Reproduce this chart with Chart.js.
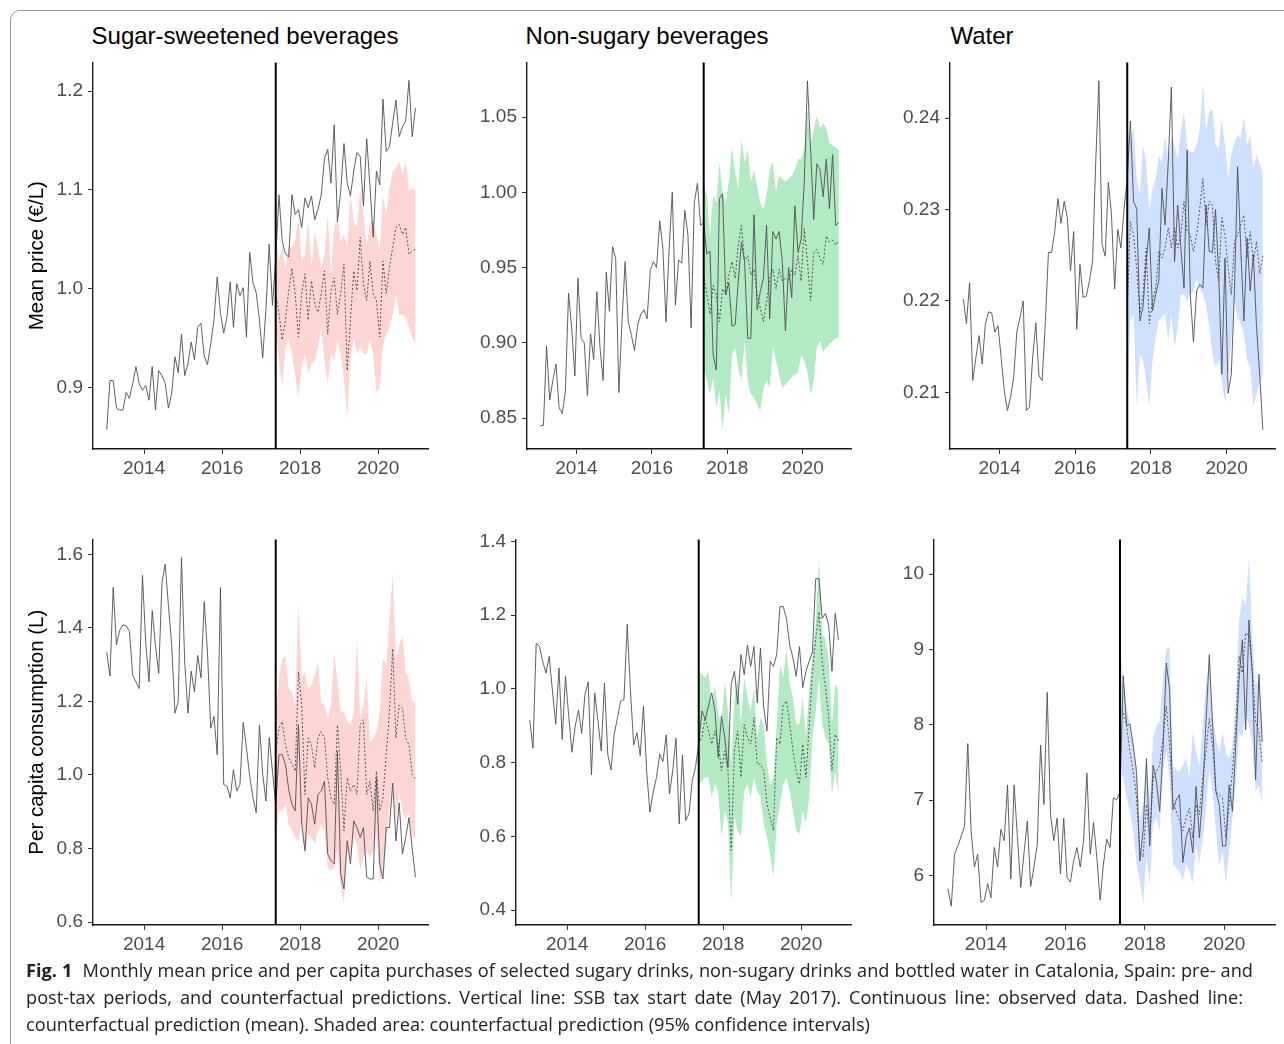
<!DOCTYPE html>
<html><head><meta charset="utf-8">
<script src="https://cdn.jsdelivr.net/npm/chart.js@4.4.0/dist/chart.umd.min.js"></script>
<style>
body{margin:0;background:#fff;width:1284px;height:1044px;overflow:hidden;position:relative;font-family:"Liberation Sans",Arial,sans-serif;}
.frame{position:absolute;left:10px;top:10px;width:1320px;height:1100px;border:1px solid #9a9a9a;border-radius:10px;box-sizing:border-box;}
.ttl{position:absolute;font-size:24px;line-height:26px;color:#000;white-space:nowrap;transform:translateX(-50%);}
canvas{position:absolute}
.cap{position:absolute;left:26px;top:957px;width:1227px;font-family:"Open Sans",sans-serif;font-size:18.2px;line-height:27px;color:#222;}
.cap div{white-space:nowrap;text-align:justify;text-align-last:justify;}
.cap div.l2{width:1217px;}
.cap div.last{text-align:left;text-align-last:left;}
.cap b{font-weight:700}
</style>
</head><body>
<div class="frame"></div>
<div class="ttl" style="left:245px;top:23px">Sugar-sweetened beverages</div>
<div class="ttl" style="left:647px;top:23px">Non-sugary beverages</div>
<div class="ttl" style="left:982px;top:23px">Water</div>
<canvas id="c1"></canvas><canvas id="c2"></canvas><canvas id="c3"></canvas>
<canvas id="c4"></canvas><canvas id="c5"></canvas><canvas id="c6"></canvas>
<div class="cap">
<div><b>Fig. 1</b>&nbsp; Monthly mean price and per capita purchases of selected sugary drinks, non-sugary drinks and bottled water in Catalonia, Spain: pre- and</div>
<div class="l2">post-tax periods, and counterfactual predictions. Vertical line: SSB tax start date (May 2017). Continuous line: observed data. Dashed line:</div>
<div class="last">counterfactual prediction (mean). Shaded area: counterfactual prediction (95% confidence intervals)</div>
</div>
<script>
// ---- time axis ----
const startYear = 2013;          // Jan 2013
const nMonths = 96;              // Jan 2013 .. Dec 2020
const taxStartIndex = 52;        // May 2017
const taxStart = 2017.375;       // May 2017 (mid-month)
const xTicks = [2014, 2016, 2018, 2020];

// ---- SSB price (EUR/L) ----
const ssbPriceObs = [0.857,0.907,0.907,0.879,0.877,0.877,0.895,0.889,0.904,0.921,
0.904,0.897,0.902,0.887,0.921,0.877,0.917,0.912,0.904,0.879,
0.894,0.931,0.915,0.954,0.912,0.924,0.946,0.928,0.961,0.965,
0.932,0.923,0.944,0.968,1.012,0.975,0.955,0.971,1.007,0.961,
1.005,0.993,1.001,0.951,1.037,1.006,0.996,0.968,0.930,0.980,
1.045,0.983,
1.030,1.095,1.048,1.035,1.032,1.095,1.075,1.080,1.062,1.092,
1.082,1.094,1.070,1.080,1.095,1.132,1.141,1.107,1.166,1.068,
1.099,1.147,1.107,1.094,1.119,1.138,1.134,1.084,1.152,1.104,
1.052,1.119,1.105,1.192,1.139,1.144,1.168,1.191,1.154,1.164,
1.170,1.211,1.154,1.183];
const ssbPriceMean = [0.995,0.975,0.948,0.968,0.998,1.021,0.995,0.951,0.995,1.015,
0.968,1.008,0.985,0.976,0.995,1.018,0.954,0.998,1.011,0.974,
0.995,1.025,0.917,0.968,1.018,0.998,1.052,1.005,0.988,1.028,
0.995,0.988,0.951,1.028,0.995,1.021,1.042,1.062,1.065,1.055,
1.062,1.035,1.038,1.040];
const ssbPriceLo = [0.954,0.927,0.901,0.941,0.948,0.934,0.911,0.891,0.921,0.934,
0.914,0.924,0.927,0.941,0.961,0.927,0.904,0.934,0.927,0.948,
0.934,0.907,0.870,0.927,0.951,0.934,0.941,0.934,0.934,0.948,
0.934,0.894,0.900,0.941,0.954,0.961,0.974,0.995,0.974,0.974,
0.971,0.961,0.950,0.944];
const ssbPriceHi = [1.048,1.028,1.042,1.021,1.042,1.042,1.050,1.072,1.028,1.035,
1.068,1.021,1.058,1.042,1.021,1.035,1.075,1.015,1.062,1.075,
1.048,1.055,1.042,1.095,1.068,1.062,1.102,1.075,1.042,1.068,
1.068,1.055,1.038,1.095,1.075,1.102,1.119,1.122,1.129,1.115,
1.129,1.099,1.102,1.100];
const ssbPriceTicks = [0.9, 1.0, 1.1, 1.2];

// ---- Non-sugary price ----
const nsPriceObs = [0.845,0.845,0.898,0.862,0.875,0.886,0.857,0.853,0.868,0.933,
0.910,0.878,0.943,0.903,0.900,0.865,0.906,0.889,0.934,0.897,
0.875,0.947,0.921,0.964,0.956,0.867,0.914,0.954,0.914,0.905,
0.895,0.912,0.919,0.922,0.916,0.948,0.954,0.950,0.981,0.963,
0.914,0.963,1.000,0.925,0.955,0.953,0.988,0.971,0.910,0.993,
1.006,0.978,
0.980,0.959,0.961,0.892,0.882,0.996,0.999,0.932,0.940,0.911,
0.912,0.941,0.967,0.954,0.903,0.903,0.985,0.922,0.934,0.943,
0.978,0.916,0.974,0.969,0.974,0.954,0.908,0.950,0.930,0.991,
0.960,0.969,1.007,1.074,1.029,0.982,1.019,1.015,0.997,1.022,
0.989,1.025,0.978,0.980];
const nsPriceMean = [0.945,0.932,0.919,0.938,0.932,0.914,0.936,0.932,0.945,0.954,
0.943,0.965,0.978,0.954,0.958,0.945,0.949,0.932,0.923,0.914,
0.927,0.943,0.949,0.936,0.949,0.941,0.943,0.941,0.949,0.945,
0.958,0.941,0.976,0.954,0.928,0.960,0.962,0.956,0.952,0.971,
0.967,0.968,0.965,0.968];
const nsPriceLo = [0.883,0.875,0.866,0.877,0.857,0.868,0.842,0.866,0.853,0.892,
0.897,0.883,0.875,0.901,0.875,0.866,0.864,0.859,0.855,0.870,
0.875,0.870,0.897,0.888,0.879,0.870,0.872,0.875,0.877,0.879,
0.880,0.892,0.888,0.881,0.866,0.875,0.897,0.901,0.894,0.897,
0.899,0.901,0.903,0.903];
const nsPriceHi = [1.004,0.998,0.971,0.998,0.993,1.020,1.000,0.993,1.007,1.030,
1.013,1.002,1.035,1.020,1.029,1.007,1.015,1.004,0.993,0.989,
0.998,1.015,1.020,1.000,1.011,1.009,1.007,1.009,1.011,1.015,
1.022,1.022,1.029,1.055,1.031,1.042,1.051,1.042,1.046,1.042,
1.033,1.031,1.030,1.028];
const nsPriceTicks = [0.85, 0.90, 0.95, 1.00, 1.05];

// ---- Water price ----
const wPriceObs = [0.2202,0.2175,0.2220,0.2113,0.2138,0.2162,0.2131,0.2175,0.2188,0.2187,
0.2166,0.2173,0.2138,0.2102,0.2080,0.2095,0.2117,0.2167,0.2182,0.2200,
0.2080,0.2084,0.2138,0.2176,0.2118,0.2113,0.2175,0.2253,0.2253,0.2276,
0.2312,0.2285,0.2309,0.2291,0.2233,0.2276,0.2169,0.2240,0.2204,0.2205,
0.2222,0.2243,0.2352,0.2441,0.2262,0.2249,0.2330,0.2294,0.2213,0.2278,
0.2258,0.2301,
0.2334,0.2397,0.2309,0.2301,0.2178,0.2193,0.2243,0.2280,0.2189,0.2207,
0.2222,0.2323,0.2283,0.2352,0.2434,0.2243,0.2305,0.2258,0.2214,0.2365,
0.2207,0.2155,0.2211,0.2218,0.2214,0.2305,0.2254,0.2253,0.2300,0.2229,
0.2120,0.2247,0.2099,0.2120,0.2211,0.2347,0.2258,0.2178,0.2269,0.2211,
0.2251,0.2171,0.2120,0.2059];
const wPriceMean = [0.2193,0.2287,0.2272,0.2236,0.2186,0.2207,0.2258,0.2175,0.2200,0.2214,
0.2254,0.2247,0.2258,0.2280,0.2258,0.2280,0.2258,0.2272,0.2309,0.2276,
0.2272,0.2254,0.2272,0.2301,0.2334,0.2283,0.2309,0.2305,0.2243,0.2222,
0.2291,0.2272,0.2236,0.2207,0.2265,0.2272,0.2283,0.2294,0.2247,0.2276,
0.2243,0.2265,0.2230,0.2250];
const wPriceLo = [0.2088,0.2178,0.2186,0.2084,0.2142,0.2135,0.2113,0.2084,0.2135,0.2160,
0.2178,0.2182,0.2186,0.2157,0.2186,0.2149,0.2171,0.2207,0.2207,0.2200,
0.2207,0.2211,0.2225,0.2214,0.2207,0.2196,0.2171,0.2142,0.2128,0.2135,
0.2113,0.2088,0.2120,0.2157,0.2200,0.2182,0.2175,0.2164,0.2135,0.2128,
0.2084,0.2100,0.2110,0.2120];
const wPriceHi = [0.2381,0.2374,0.2390,0.2334,0.2316,0.2370,0.2352,0.2298,0.2323,0.2334,
0.2359,0.2352,0.2381,0.2352,0.2378,0.2370,0.2356,0.2385,0.2408,0.2367,
0.2363,0.2363,0.2370,0.2388,0.2437,0.2385,0.2407,0.2410,0.2370,0.2367,
0.2399,0.2370,0.2334,0.2359,0.2374,0.2381,0.2378,0.2401,0.2370,0.2381,
0.2345,0.2360,0.2350,0.2340];
const wPriceTicks = [0.21, 0.22, 0.23, 0.24];

// ---- SSB per capita consumption (L) ----
const ssbConsObs = [1.334,1.269,1.510,1.354,1.393,1.408,1.406,1.390,1.271,1.253,
1.235,1.543,1.361,1.253,1.447,1.352,1.276,1.523,1.573,1.460,
1.352,1.168,1.199,1.591,1.307,1.168,1.282,1.226,1.325,1.264,
1.471,1.334,1.127,1.159,1.055,1.510,0.974,0.969,0.938,1.014,
0.956,0.974,1.143,1.073,0.996,0.938,0.897,1.136,1.001,0.929,
1.102,1.010,
0.920,1.055,1.055,1.028,0.960,0.920,0.902,1.136,0.866,0.794,
0.938,0.920,0.866,0.947,0.956,0.983,0.785,0.767,0.758,1.064,
0.731,0.690,0.821,0.758,0.875,0.857,0.830,0.857,0.722,0.717,
0.717,0.992,0.758,0.717,0.857,0.857,0.978,0.821,0.924,0.785,
0.830,0.884,0.800,0.722];
const ssbConsMean = [1.064,1.127,1.145,1.082,1.046,1.030,1.010,1.280,1.190,0.947,
1.100,1.082,1.019,1.100,1.118,1.100,0.992,0.938,0.920,1.136,
1.010,0.848,0.992,0.956,0.974,0.947,1.136,1.150,0.947,0.983,
0.902,1.010,0.902,0.938,1.055,1.172,1.343,1.100,1.190,1.181,
1.100,1.082,1.001,0.990];
const ssbConsLo = [0.830,0.902,0.902,0.920,0.866,0.850,0.830,0.821,0.875,0.776,
0.839,0.830,0.812,0.848,0.866,0.848,0.749,0.740,0.749,0.794,
0.695,0.650,0.794,0.776,0.830,0.812,0.740,0.776,0.794,0.776,
0.794,0.839,0.704,0.740,0.812,0.902,0.992,0.875,0.956,0.902,
0.875,0.902,0.830,0.830];
const ssbConsHi = [1.181,1.262,1.316,1.325,1.235,1.226,1.190,1.469,1.262,1.280,
1.235,1.244,1.271,1.307,1.199,1.190,1.154,1.190,1.334,1.253,
1.172,1.172,1.145,1.136,1.172,1.370,1.154,1.190,1.262,1.091,
1.100,1.118,1.172,1.316,1.300,1.424,1.550,1.316,1.352,1.379,
1.280,1.262,1.199,1.200];
const ssbConsTicks = [0.6, 0.8, 1.0, 1.2, 1.4, 1.6];

// ---- Non-sugary per capita consumption (L) ----
const nsConsObs = [0.915,0.839,1.124,1.115,1.075,1.043,1.088,0.994,0.904,1.057,
0.863,1.034,0.926,0.828,0.899,0.942,0.879,0.985,1.019,0.767,
0.989,0.913,0.832,1.016,0.823,0.780,0.877,0.922,0.967,0.971,
1.175,0.994,0.848,0.881,0.819,0.953,0.774,0.666,0.720,0.760,
0.823,0.803,0.875,0.715,0.778,0.866,0.634,0.821,0.643,0.661,
0.751,0.787,
0.850,0.940,0.917,0.953,0.989,0.940,0.814,0.926,0.868,0.787,
1.012,1.048,0.958,1.093,1.039,1.119,1.061,1.115,0.962,1.111,
0.949,0.886,1.075,1.061,1.093,1.223,1.223,1.191,1.119,1.084,
1.034,1.115,1.003,1.048,1.075,1.100,1.299,1.299,1.191,1.205,
1.173,1.048,1.205,1.133];
const nsConsMean = [0.850,0.870,0.922,0.886,0.850,0.886,0.850,0.778,0.832,0.778,
0.562,0.832,0.886,0.760,0.904,0.868,0.850,0.922,0.796,0.796,
0.778,0.688,0.650,0.616,0.868,0.850,0.958,0.967,0.904,0.832,
0.778,0.742,0.850,0.760,0.904,1.048,1.137,1.209,1.075,1.003,
0.922,0.778,0.877,0.859];
const nsConsLo = [0.742,0.750,0.760,0.760,0.706,0.742,0.724,0.598,0.670,0.634,
0.419,0.652,0.616,0.598,0.724,0.742,0.706,0.760,0.724,0.706,
0.634,0.598,0.550,0.491,0.634,0.688,0.742,0.760,0.724,0.670,
0.616,0.607,0.670,0.634,0.706,0.868,0.940,1.030,0.904,0.868,
0.850,0.715,0.778,0.715];
const nsConsHi = [1.048,1.040,1.030,1.048,0.958,1.012,0.931,0.904,1.021,0.940,
0.787,0.976,1.030,0.904,1.030,0.976,0.940,1.003,0.868,0.922,
0.904,0.796,0.740,0.760,0.904,1.066,1.030,1.111,1.012,0.976,
0.904,0.904,0.976,0.868,1.003,1.084,1.182,1.358,1.146,1.137,
1.075,0.904,1.012,0.994];
const nsConsTicks = [0.4, 0.6, 0.8, 1.0, 1.2, 1.4];

// ---- Water per capita consumption (L) ----
const wConsObs = [5.82,5.59,6.28,6.39,6.52,6.65,7.75,6.59,6.11,6.28,
5.64,5.67,5.89,5.70,6.37,6.11,6.61,6.46,7.20,5.95,
7.20,6.50,5.84,6.30,6.72,5.85,6.11,6.41,7.73,6.94,
8.43,6.81,6.46,6.76,6.02,6.76,5.97,5.91,6.19,6.37,
6.11,6.46,7.36,6.28,6.70,6.24,5.67,6.15,6.48,6.37,
7.03,7.00,
7.11,8.65,7.99,8.01,7.73,7.38,6.19,6.59,7.55,6.39,
7.46,7.25,6.85,7.68,8.82,8.47,6.87,7.00,7.07,6.17,
6.50,6.63,6.30,7.18,6.50,7.07,8.04,8.93,7.99,7.11,
6.94,6.39,6.39,7.20,6.85,7.73,8.61,9.13,7.93,9.39,
8.69,7.27,8.67,7.77];
const wConsMean = [8.25,8.17,7.99,7.64,7.38,7.03,6.32,6.24,6.94,6.50,
7.29,7.38,7.46,7.82,8.25,7.73,6.98,6.85,6.72,6.59,
6.76,6.89,6.50,6.94,6.81,7.29,7.64,8.08,7.73,7.11,
7.07,7.03,6.50,6.94,7.38,7.99,8.91,8.69,9.22,9.18,
8.74,8.04,7.90,7.51];
const wConsLo = [7.38,7.29,7.03,6.85,6.59,6.15,5.93,5.62,6.24,5.89,
6.68,6.76,6.59,7.38,7.64,7.29,6.15,6.10,6.06,5.93,
6.15,6.06,5.89,6.41,6.15,6.50,6.85,7.42,7.11,6.59,
6.11,6.32,5.89,6.32,6.76,7.20,7.90,7.82,8.17,7.99,
7.73,7.11,7.20,6.94];
const wConsHi = [9.00,8.61,8.25,7.99,7.73,7.38,6.72,6.94,7.46,7.03,
7.82,7.99,8.04,8.61,9.00,9.04,7.46,7.40,7.38,7.46,
7.55,7.29,7.90,7.64,7.46,7.99,8.52,8.87,8.08,7.82,
7.64,7.90,7.64,7.55,7.73,8.34,9.39,9.70,9.57,10.23,
9.13,8.52,8.61,7.99];
const wConsTicks = [6, 7, 8, 9, 10];

// ---- colours ----
const pinkFill = 'rgb(253,214,212)';
const greenFill = 'rgb(178,234,196)';
const blueFill = 'rgb(207,224,255)';

// ---- panel layout (plot-area boxes, px) ----
const panels = [
  {id:'c1', box:[93,428,60,449],  obs:ssbPriceObs, mean:ssbPriceMean, lo:ssbPriceLo, hi:ssbPriceHi, ticks:ssbPriceTicks, dec:1, ymin:0.8376, ymax:1.2292, fill:pinkFill, ytitle:'Mean price (€/L)'},
  {id:'c2', box:[527,851,60,449], obs:nsPriceObs, mean:nsPriceMean, lo:nsPriceLo, hi:nsPriceHi, ticks:nsPriceTicks, dec:2, ymin:0.8295, ymax:1.0863, fill:greenFill},
  {id:'c3', box:[950,1275,60,449], obs:wPriceObs, mean:wPriceMean, lo:wPriceLo, hi:wPriceHi, ticks:wPriceTicks, dec:2, ymin:0.2038, ymax:0.2461, fill:blueFill},
  {id:'c4', box:[93,428,537,925], obs:ssbConsObs, mean:ssbConsMean, lo:ssbConsLo, hi:ssbConsHi, ticks:ssbConsTicks, dec:1, ymin:0.5919, ymax:1.6405, fill:pinkFill, ytitle:'Per capita consumption (L)'},
  {id:'c5', box:[516,851,537,925], obs:nsConsObs, mean:nsConsMean, lo:nsConsLo, hi:nsConsHi, ticks:nsConsTicks, dec:1, ymin:0.3596, ymax:1.4054, fill:greenFill},
  {id:'c6', box:[934,1275,537,925], obs:wConsObs, mean:wConsMean, lo:wConsLo, hi:wConsHi, ticks:wConsTicks, dec:0, ymin:5.34, ymax:10.462, fill:blueFill}
];
const xMin = 2012.69, xMax = 2021.28;

const Y_W = 72, PAD_L = 2, PAD_T = 14, PAD_R = 6, X_H = 42;
const tickFont = {family:'"Liberation Sans", Arial, sans-serif', size:19};
const tickColor = '#4d4d4d';

const dateOf = i => startYear + (i + 0.5) / 12;

const vlinePlugin = {
  id:'vline',
  afterDatasetsDraw(chart){
    const xs = chart.scales.x, a = chart.chartArea, ctx = chart.ctx;
    const px = xs.getPixelForValue(taxStart);
    ctx.save();
    ctx.strokeStyle = '#000'; ctx.lineWidth = 2;
    ctx.beginPath(); ctx.moveTo(px, a.top); ctx.lineTo(px, a.bottom); ctx.stroke();
    ctx.restore();
  }
};

panels.forEach(p => {
  const [l, r, t, b] = p.box;
  const cv = document.getElementById(p.id);
  const W = PAD_L + Y_W + (r - l) + PAD_R;
  const H = PAD_T + (b - t) + X_H;
  cv.width = W; cv.height = H;
  cv.style.width = W + 'px'; cv.style.height = H + 'px';
  cv.style.left = (l - Y_W - PAD_L) + 'px';
  cv.style.top = (t - PAD_T) + 'px';

  const obsPts = p.obs.map((v, i) => ({x: dateOf(i), y: v}));
  const meanPts = p.mean.map((v, k) => ({x: dateOf(taxStartIndex + k), y: v}));
  const loPts = p.lo.map((v, k) => ({x: dateOf(taxStartIndex + k), y: v}));
  const hiPts = p.hi.map((v, k) => ({x: dateOf(taxStartIndex + k), y: v}));

  new Chart(cv, {
    type:'line',
    data:{datasets:[
      {data:obsPts, borderColor:'rgba(80,80,80,0.9)', borderWidth:1, pointRadius:0, fill:false, tension:0},
      {data:meanPts, borderColor:'rgba(70,70,70,0.9)', borderWidth:1, borderDash:[2,2], pointRadius:0, fill:false, tension:0},
      {data:loPts, borderWidth:0, borderColor:'rgba(0,0,0,0)', pointRadius:0, fill:false, tension:0},
      {data:hiPts, borderWidth:0, borderColor:'rgba(0,0,0,0)', pointRadius:0, fill:{target:2}, backgroundColor:p.fill, tension:0}
    ]},
    options:{
      responsive:false, animation:false, devicePixelRatio:1,
      layout:{padding:{left:PAD_L, top:PAD_T, right:PAD_R, bottom:0}},
      plugins:{legend:{display:false}, tooltip:{enabled:false}},
      scales:{
        x:{type:'linear', min:xMin, max:xMax,
          afterBuildTicks:s => { s.ticks = xTicks.map(v => ({value:v})); },
          afterFit:s => { s.height = X_H; },
          ticks:{font:tickFont, color:tickColor, padding:3, maxRotation:0, autoSkip:false, callback:v => String(v)},
          grid:{display:true, drawOnChartArea:false, drawTicks:true, tickLength:5, color:'#333', lineWidth:1},
          border:{display:true, color:'#1a1a1a', width:1.4}
        },
        y:{type:'linear', min:p.ymin, max:p.ymax,
          afterBuildTicks:s => { s.ticks = p.ticks.map(v => ({value:v})); },
          afterFit:s => { s.width = Y_W; },
          ticks:{font:tickFont, color:tickColor, padding:5, autoSkip:false, callback:v => Number(v).toFixed(p.dec)},
          grid:{display:true, drawOnChartArea:false, drawTicks:true, tickLength:5, color:'#333', lineWidth:1},
          border:{display:true, color:'#1a1a1a', width:1.4},
          title:{display:!!p.ytitle, text:p.ytitle || '', color:'#000', font:{family:'"Liberation Sans", Arial, sans-serif', size:20.5}, padding:{top:4, bottom:0}}
        }
      }
    },
    plugins:[vlinePlugin]
  });
});
</script>
</body></html>
